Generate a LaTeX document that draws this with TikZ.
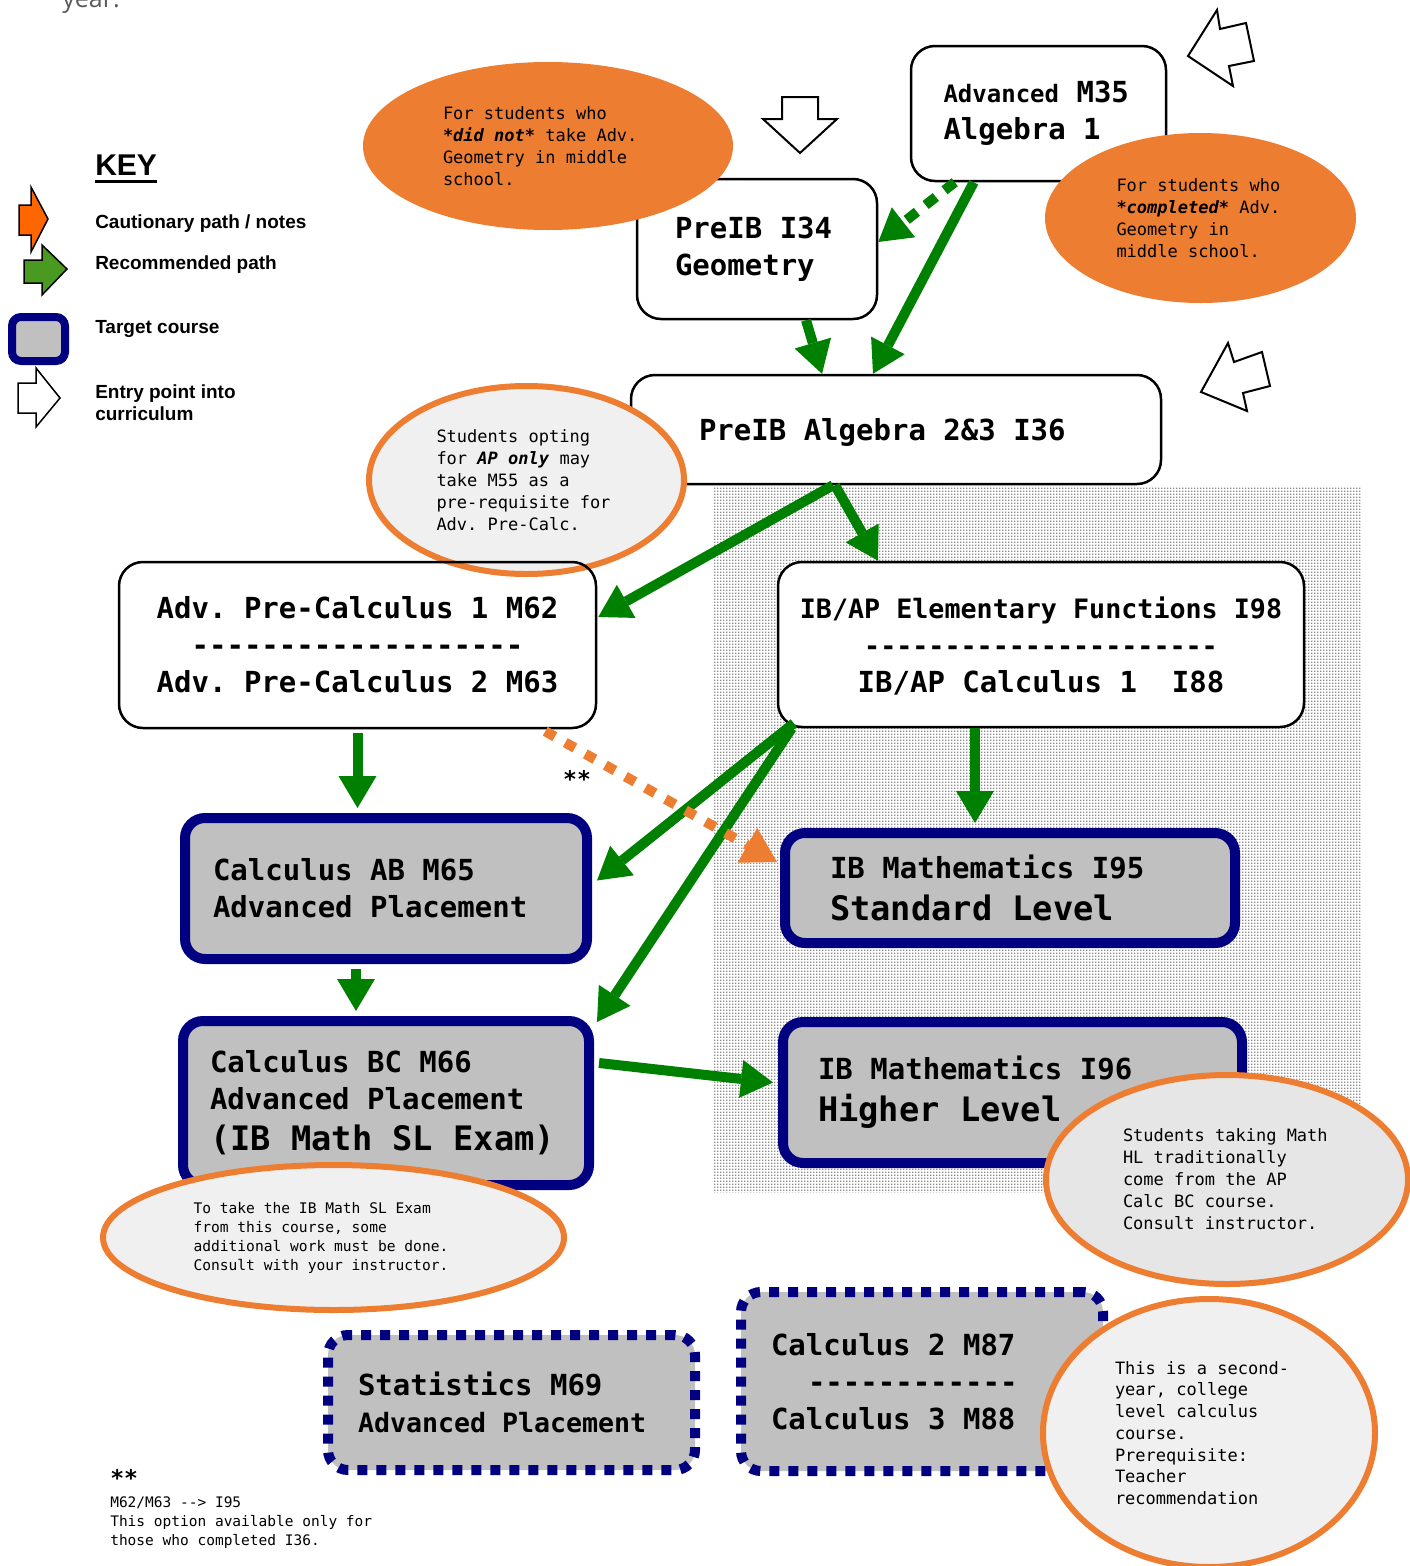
\documentclass[tikz,border=0pt]{standalone}
\usepackage{fontspec}
\setmainfont{Liberation Sans}
\newfontfamily\boxfont{DejaVu Sans Mono}
\newfontfamily\yearfont{Open Sans}
\usetikzlibrary{arrows.meta,shapes.geometric,patterns,calc}

\definecolor{cnavy}{RGB}{0,0,128}
\definecolor{corange}{RGB}{237,125,49}
\definecolor{cgreen}{RGB}{0,128,0}
\definecolor{boxgray}{RGB}{192,192,192}
\definecolor{notegray}{RGB}{240,240,240}
\definecolor{notegraydark}{RGB}{230,230,230}
\definecolor{keyorange}{RGB}{255,102,0}
\definecolor{keygreen}{RGB}{74,154,34}
\definecolor{textgray}{RGB}{89,89,89}
\definecolor{stipplegray}{RGB}{140,140,140}

% fine grey stipple for the IB side
\pgfdeclarepatternformonly{stipple}{\pgfpointorigin}{\pgfqpoint{3pt}{3pt}}{\pgfqpoint{3pt}{3pt}}%
  {\pgfpathrectangle{\pgfpointorigin}{\pgfqpoint{1.8pt}{1.8pt}}\pgfusepath{fill}}

\newcommand{\dashrow}[1]{\foreach \k in {1,...,#1}{-}}
\newcommand{\bigline}{\fontsize{33.7}{40}\selectfont}
\newcommand{\monospaces}{\frenchspacing\spaceskip=0pt\xspaceskip=0pt\relax}

\tikzset{every picture/.style={line width=0.55pt}}
\tikzset{
  coursebox/.style={draw, line width=2.5pt, rounded corners=24pt, fill=white, inner sep=0pt,
    font=\boxfont\bfseries\fontsize{29}{37}\selectfont, execute at begin node=\monospaces},
  targetbox/.style={coursebox, draw=cnavy, line width=10pt, fill=boxgray, rounded corners=20pt},
  optbox/.style={targetbox, dash pattern=on 10pt off 9pt},
  notefill/.style={ellipse, draw=none, fill=corange, inner sep=0pt, align=left,
    font=\boxfont\fontsize{17}{22}\selectfont, execute at begin node=\monospaces},
  noteline/.style={notefill, draw=corange, line width=6pt, fill=notegray},
  gopath/.style={draw=cgreen, line width=10pt, -{Triangle[length=32pt,width=38pt,line width=0pt]}},
  cautionpath/.style={draw=corange, line width=10pt, dash pattern=on 11pt off 12pt,
    -{Triangle[length=34pt,width=40pt,line width=0pt]}},
  entryarrow/.style={draw, line width=2pt, fill=white},
  keylabel/.style={anchor=base west, inner sep=0pt, font=\bfseries\fontsize{19}{22}\selectfont},
}

\begin{document}
\begin{tikzpicture}[x=1pt,y=1pt,yscale=-1,xscale=1]
\useasboundingbox (0,0) rectangle (1410,1566);

%Shape: Dotted background [IB side]
\fill[pattern=stipple, pattern color=stipplegray] (714,487) rectangle (1361,1192);

% Text Node
\node[anchor=base west, inner sep=0pt, text=textgray, font=\yearfont\fontsize{25}{30}\selectfont] (yeartext) at (62,7) {year.};

%Rounded Rect: courses
\node[coursebox, minimum width=255pt, minimum height=135pt, text width=190pt, align=left] (m35) at (1038.5,113.5)
  {{\fontsize{24}{37}\selectfont Advanced} M35\\Algebra 1};
\node[coursebox, minimum width=240pt, minimum height=140pt, text width=164pt, align=left] (geo) at (757,249)
  {PreIB I34\\Geometry};
\node[coursebox, minimum width=530pt, minimum height=109pt, text width=394pt, align=left, text depth=0pt] (i36) at (896,429.5)
  {PreIB Algebra 2\&3 I36};
\node[coursebox, minimum width=526pt, minimum height=165pt, align=center, text depth=0pt] (ibap) at (1041,644.5)
  {{\fontsize{26.7}{37}\selectfont IB/AP Elementary Functions I98}\\{\fontsize{26.7}{37}\selectfont\dashrow{22}}\\IB/AP Calculus 1\ \ I88};

%Rounded Rect: target courses
\node[targetbox, minimum width=402pt, minimum height=141pt, text width=346pt, align=left] (ab) at (386,888.5)
  {Calculus AB M65\\Advanced Placement};
\node[targetbox, minimum width=450pt, minimum height=110pt, text width=360pt, align=left] (sl) at (1010,888)
  {IB Mathematics I95\\[5pt]{\bigline Standard Level}};
\node[targetbox, minimum width=406pt, minimum height=164pt, text width=352pt, align=left] (bc) at (386,1103)
  {Calculus BC M66\\Advanced Placement\\[4pt]{\bigline (IB Math SL Exam)}};
\node[targetbox, minimum width=459pt, minimum height=141pt, text width=389pt, align=left] (hl) at (1012.5,1092.5)
  {IB Mathematics I96\\[5pt]{\bigline Higher Level}};
\node[optbox, minimum width=367pt, minimum height=135pt, text width=307pt, align=left] (stat) at (511.5,1402.5)
  {Statistics M69\\{\fontsize{26.6}{37}\selectfont Advanced Placement}};
\node[optbox, minimum width=362pt, minimum height=179pt, text width=302pt, align=left] (calc23) at (922,1381.5)
  {Calculus 2 M87\\\hspace*{37pt}\dashrow{12}\\Calculus 3 M88};

%Shape: Ellipse notes
\node[notefill, minimum width=370pt, minimum height=168pt, text width=210pt] (notegeo) at (548,146)
  {For students who\\\textbf{\textit{*did not*}} take Adv.\\Geometry in middle\\school.};
\node[notefill, minimum width=311pt, minimum height=170pt, text width=168pt] (notealg) at (1200.5,218)
  {For students who\\\textbf{\textit{*completed*}} Adv.\\Geometry in\\middle school.};
\node[noteline, minimum width=315pt, minimum height=188pt, text width=180pt] (noteap) at (526.5,480)
  {Students opting\\for \textbf{\textit{AP only}} may\\take M55 as a\\pre-requisite for\\Adv. Pre-Calc.};
\node[noteline, minimum width=461pt, minimum height=145pt, text width=280pt,
  font=\boxfont\fontsize{14.6}{19}\selectfont] (notesl) at (333.5,1237.5)
  {To take the IB Math SL Exam\\from this course, some\\additional work must be done.\\Consult with your instructor.};
\node[noteline, fill=notegraydark, minimum width=362pt, minimum height=209pt, text width=208pt] (notehl) at (1227,1179.5)
  {Students taking Math\\HL traditionally\\come from the AP\\Calc BC course.\\Consult instructor.};
\node[noteline, minimum width=332pt, minimum height=268pt, text width=188pt,
  font=\boxfont\fontsize{17}{21.7}\selectfont] (notecalc) at (1209,1433)
  {This is a second-\\year, college\\level calculus\\course.\\Prerequisite:\\Teacher\\recommendation};

%Rounded Rect: pre-calc (no fill, over the note)
\node[coursebox, fill=none, minimum width=477pt, minimum height=166pt, align=center] (precalc) at (357.5,645)
  {Adv. Pre-Calculus 1 M62\\\dashrow{19}\\Adv. Pre-Calculus 2 M63};

%Straight Lines: recommended paths
\draw[gopath, dash pattern=on 13pt off 11pt] ($(m35.south west)+(45,0)$) -- ($(geo.east)+(0,-7)$);
\draw[gopath] ($(m35.south west)+(64,0)$) -- ($(i36.north)+(-23,0)$);
\draw[gopath] ($(geo.south)+(49,0)$) -- ($(i36.north)+(-74,0)$);
\draw[gopath] ($(i36.south)+(-63,0)$) -- ($(precalc.east)+(1,-28)$);
\draw[gopath] ($(i36.south)+(-61,0)$) -- ($(ibap.north)+(-163,0)$);
\draw[gopath, shorten <=4pt, shorten >=5pt] (precalc.south) -- (precalc.south |- ab.north);
\draw[gopath, shorten <=5pt, shorten >=5pt] ($(ab.south)+(-30,0)$) -- ($(bc.north)+(-30,0)$);
\draw[gopath] ($(ibap.south west)+(17,-5)$) -- ($(ab.east)+(5,-8)$);
\draw[gopath] ($(ibap.south west)+(15,0)$) -- ($(bc.north east)+(3,6)$);
\draw[gopath, shorten >=5pt] ($(ibap.south)+(-66,0)$) -- ($(sl.north)+(-35,0)$);
\draw[gopath] ($(bc.east)+(5,-40)$) -- ($(hl.west)+(-5,-10)$);

%Straight Lines: cautionary path
\draw[cautionpath] ($(precalc.south east)+(-52,2)$) -- ($(sl.west)+(-3,-26)$);

% Text Node
\node[inner sep=0pt, font=\boxfont\bfseries\fontsize{23}{27}\selectfont] (starsarrow) at (577,779) {**};
\node[anchor=west, inner sep=0pt, font=\boxfont\bfseries\fontsize{23}{27}\selectfont] (starsfoot) at (110,1478) {**};
\node[anchor=north west, inner sep=0pt, align=left, font=\boxfont\fontsize{14.5}{19}\selectfont,
  execute at begin node=\monospaces] (footnote) at (110,1496)
  {M62/M63 -{}-{}> I95\\This option available only for\\those who completed I36.};

%Shape: Entry arrows
\draw[entryarrow] (782,97) -- (818,97) -- (818,119) -- (837,119) -- (800,153) -- (763,119) -- (782,119) -- cycle;
\draw[entryarrow] (1188,56) -- (1217,10) -- (1220,29) -- (1246,23) -- (1254,61) -- (1229,66) -- (1233,86) -- cycle;
\draw[entryarrow] (1201,392) -- (1228,343) -- (1234,362) -- (1262,352) -- (1270,386) -- (1243,393) -- (1247,411) -- cycle;

%Key
\node[keylabel, font=\bfseries\fontsize{30}{36}\selectfont] (keytitle) at (95,175) {KEY};
\draw[line width=3pt] ($(keytitle.base west)+(0,6)$) -- ($(keytitle.base east)+(0,6)$);
\draw[line width=1.5pt, fill=keyorange] (19,205) -- (31,205) -- (31,187) -- (48,219) -- (31,252) -- (31,235) -- (19,235) -- cycle;
\node[keylabel] (keycaution) at (95,228) {Cautionary path / notes};
\draw[line width=1.5pt, fill=keygreen] (24,260) -- (42,260) -- (42,245) -- (67,269) -- (42,295) -- (42,283) -- (24,283) -- cycle;
\node[keylabel] (keyrecommend) at (95,269) {Recommended path};
\draw[cnavy, line width=8pt, fill=boxgray, rounded corners=9pt] (12,317) rectangle (65,361);
\node[keylabel] (keytarget) at (95,333) {Target course};
\draw[line width=1.5pt, fill=white] (18,383) -- (36,383) -- (36,368) -- (60,398) -- (36,427) -- (36,413) -- (18,413) -- cycle;
\node[keylabel, anchor=north west, align=left] (keyentry) at (95,384) {Entry point into\\curriculum};
\end{tikzpicture}
\end{document}
